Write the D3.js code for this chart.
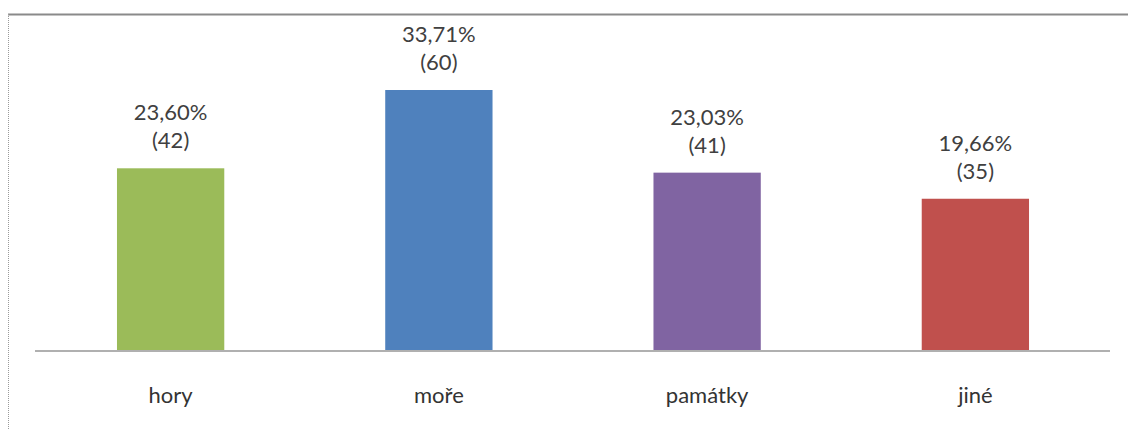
<!DOCTYPE html>
<html>
<head>
<meta charset="utf-8">
<script src="https://cdn.jsdelivr.net/npm/d3@7"></script>
<style>
  html, body { margin: 0; padding: 0; background: #fff; }
  svg { display: block; }
</style>
</head>
<body>
<svg id="chart" width="1128" height="430"></svg>
<script>
// Destinations and how many respondents chose each
const categories = ["hory", "moře", "památky", "jiné"];
const counts = [42, 60, 41, 35];
const percentLabels = ["23,60%", "33,71%", "23,03%", "19,66%"];
const colors = ["#9BBB59", "#4F81BD", "#8064A2", "#C0504D"];

const svg = d3.select("#chart");
const W = 1128, H = 430;
const font = "Lato, 'Open Sans', sans-serif";

// Outer frame: solid top edge, dotted left edge
svg.append("line").attr("x1", 8).attr("x2", W).attr("y1", 14.5).attr("y2", 14.5)
  .attr("stroke", "#8a8a8a").attr("stroke-width", 2);
svg.append("line").attr("x1", 8.5).attr("x2", 8.5).attr("y1", 14).attr("y2", H)
  .attr("stroke", "#9a9a9a").attr("stroke-width", 1).attr("stroke-dasharray", "1,1");

const x = d3.scaleBand().domain(categories).range([36.5, 1109.5]).paddingInner(0.6).paddingOuter(0.3);
const y = d3.scaleLinear().domain([0, 60]).range([351, 90]);

// Bars
svg.selectAll("rect.bar").data(categories).join("rect")
  .attr("class", "bar")
  .attr("x", d => x(d))
  .attr("width", x.bandwidth())
  .attr("y", (d, i) => y(counts[i]))
  .attr("height", (d, i) => y(0) - y(counts[i]))
  .attr("fill", (d, i) => colors[i]);

// Category axis (baseline only, no ticks)
const axis = svg.append("g").attr("transform", `translate(0,${y(0)})`)
  .call(d3.axisBottom(x).tickSize(0).tickPadding(0));
axis.select(".domain").attr("stroke", "#b0b0b0").attr("stroke-width", 2)
  .attr("d", "M35,0H1110");
axis.selectAll(".tick text")
  .attr("y", 52).attr("dy", 0)
  .attr("font-family", font).attr("font-size", 22).attr("fill", "#333");

// Value labels: percentage over count
const labels = svg.selectAll("g.lbl").data(categories).join("g")
  .attr("class", "lbl")
  .attr("transform", (d, i) => `translate(${x(d) + x.bandwidth() / 2},${y(counts[i])})`);
labels.append("text").attr("y", -48).attr("text-anchor", "middle")
  .attr("font-family", font).attr("font-size", 22).attr("fill", "#404040")
  .text((d, i) => percentLabels[i]);
labels.append("text").attr("y", -20).attr("text-anchor", "middle")
  .attr("font-family", font).attr("font-size", 22).attr("fill", "#404040")
  .text((d, i) => `(${counts[i]})`);
</script>
</body>
</html>
